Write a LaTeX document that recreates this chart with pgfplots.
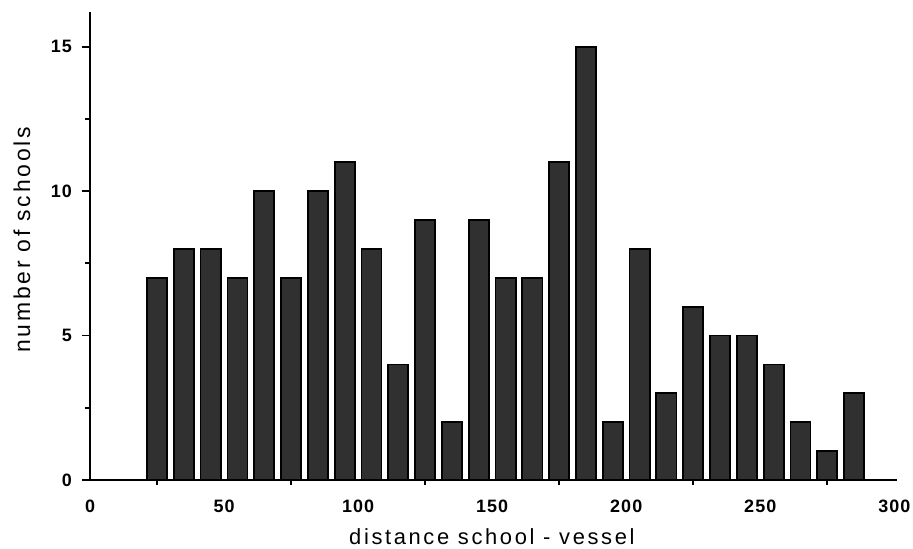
\documentclass[border=0pt]{standalone}
\usepackage{fontspec}
\setmainfont{Liberation Sans}
\newfontfamily\spacedx[LetterSpace=12]{Liberation Sans}
\newfontfamily\spacedy[LetterSpace=12]{Liberation Sans}
\newfontfamily\spacedt[LetterSpace=6]{Liberation Sans}
\usepackage{pgfplots}
\pgfplotsset{compat=1.18}
\definecolor{barfill}{HTML}{303030}
\pgfplotstableread{
x y
25 7
35 8
45 8
55 7
65 10
75 7
85 10
95 11
105 8
115 4
125 9
135 2
145 9
155 7
165 7
175 11
185 15
195 2
205 8
215 3
225 6
235 5
245 5
255 4
265 2
275 1
285 3
}\schooldata
\begin{document}
\begin{tikzpicture}
\useasboundingbox (-45bp,-34.5bp) rectangle (411.5bp,240bp);
\begin{axis}[
  at={(0,0)}, anchor=south west, scale only axis,
  width=403.5bp, height=234bp,
  xmin=0, xmax=301, ymin=0, ymax=16.2,
  axis lines=left,
  axis line style={line width=1bp, -},
  tick align=outside,
  major tick length=4bp, minor tick length=2.5bp,
  tick style={line width=0.9bp, black},
  xtick={0,50,...,300},
  minor xtick={25,75,...,275},
  major x tick style={draw=none},
  ytick={0,5,10,15}, minor ytick={2.5,7.5,12.5},
  xticklabel style={font=\spacedt\bfseries\fontsize{9}{10}\selectfont, yshift=-2.5bp},
  yticklabel style={font=\spacedt\bfseries\fontsize{9}{10}\selectfont, xshift=-1.5bp},
  /pgf/number format/assume math mode=true,
  xlabel={distance school - vessel},
  ylabel={number of schools},
  every axis x label/.style={at={(axis description cs:0.498,0)}, anchor=center, yshift=-28.5bp, font=\spacedx\fontsize{11}{12}\selectfont},
  every axis y label/.style={at={(axis description cs:0,0.513)}, xshift=-34bp, rotate=90, anchor=center, font=\spacedy\fontsize{11.5}{12}\selectfont},
  clip=false,
]
\addplot[ybar, bar width=7.5, fill=barfill, draw=black, line width=0.9bp] table[x=x,y=y] {\schooldata};
\end{axis}
\end{tikzpicture}
\end{document}
